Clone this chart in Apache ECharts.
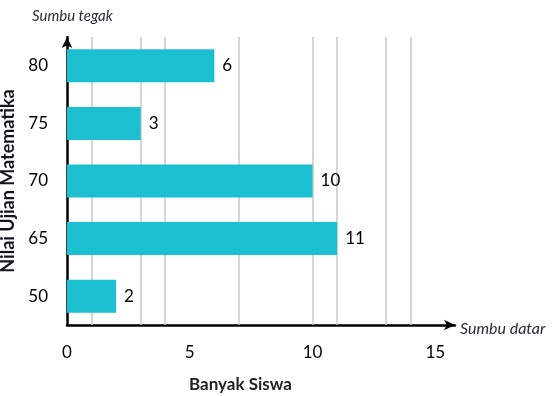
<!DOCTYPE html>
<html>
<head>
<meta charset="utf-8">
<script src="https://cdn.jsdelivr.net/npm/echarts@6/dist/echarts.min.js"></script>
<style>
  html, body { margin: 0; padding: 0; background: #fff; }
  #chart { width: 553px; height: 396px; }
</style>
</head>
<body>
<div id="chart"></div>
<script>
  // data
  var nilai = ['50', '65', '70', '75', '80'];
  var banyakSiswa = [2, 11, 10, 3, 6];
  var garisBantu = [1, 3, 4, 7, 10, 11, 13, 14]; // vertical lines in the picture
  var labelX = [0, 5, 10, 15];

  var chart = echarts.init(document.getElementById('chart'));
  var font = 'Lato, "Open Sans", sans-serif';

  var option = {
    animation: false,
    textStyle: { fontFamily: font },
    title: [{
      text: 'Sumbu tegak',
      left: 27, top: 4,
      textStyle: { fontSize: 15, fontStyle: 'italic', fontWeight: 'normal', color: '#2a2a33', fontFamily: font }
    }, {
      text: 'Banyak Siswa',
      left: 184, top: 371,
      textStyle: { fontSize: 17, fontWeight: 'bold', color: '#222', fontFamily: font }
    }],
    grid: { left: 67, top: 37, right: 98, bottom: 71, outerBoundsMode: 'none', containLabel: false },
    xAxis: {
      type: 'value',
      min: 0,
      max: 15.8,
      interval: 5,
      name: 'Sumbu datar',
      nameLocation: 'end',
      nameGap: 5,
      nameTextStyle: { fontSize: 16, fontStyle: 'italic', color: '#2a2a33', verticalAlign: 'top', padding: [-4, 0, 0, 0] },
      axisLine: { show: true, lineStyle: { color: '#000', width: 2.5 }, symbol: ['none', 'arrow'], symbolSize: [8, 11] },
      axisTick: { show: false },
      splitLine: { show: false },
      axisLabel: {
        margin: 19, fontSize: 17, color: '#000', showMaxLabel: false,
        formatter: function (v) { return labelX.indexOf(v) >= 0 ? String(v) : ''; }
      }
    },
    yAxis: {
      type: 'category',
      data: nilai,
      name: 'Nilai Ujian Matematika',
      nameLocation: 'middle',
      nameRotate: 90,
      nameGap: 48,
      nameTextStyle: { fontSize: 18, fontWeight: 'bold', color: '#141420' },
      axisLine: { show: true, lineStyle: { color: '#000', width: 2.5 }, symbol: ['none', 'arrow'], symbolSize: [8, 11] },
      axisTick: { show: false },
      axisLabel: { margin: 19, fontSize: 17, color: '#000' }
    },
    series: [{
      type: 'scatter',
      data: [],
      z: 1,
      silent: true,
      markLine: {
        silent: true,
        z: 1,
        symbol: ['none', 'none'],
        label: { show: false },
        lineStyle: { color: '#c9c9c9', width: 1.5, type: 'solid' },
        data: garisBantu.map(function (v) { return { xAxis: v }; })
      }
    }, {
      type: 'bar',
      data: banyakSiswa,
      z: 3,
      barWidth: 33,
      itemStyle: { color: '#1cbfcf' },
      label: { show: true, position: 'right', distance: 8, fontSize: 17, color: '#000' }
    }]
  };

  chart.setOption(option);
</script>
</body>
</html>
